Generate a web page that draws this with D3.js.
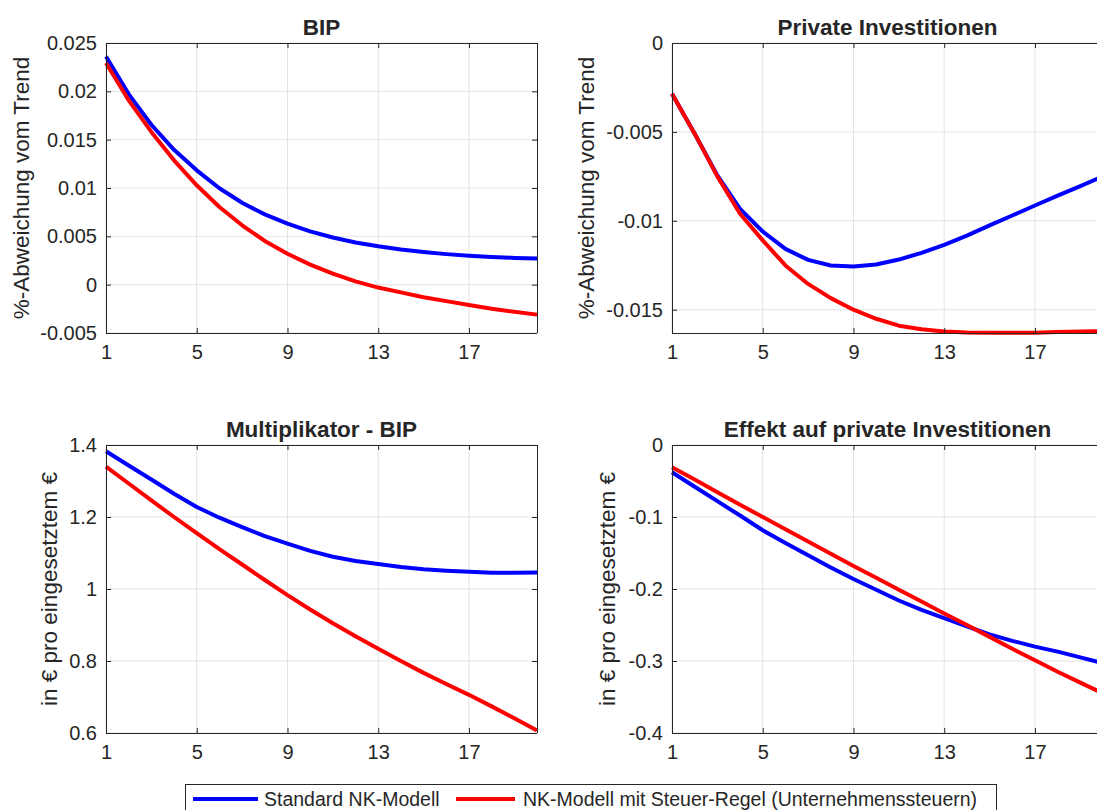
<!DOCTYPE html>
<html>
<head>
<meta charset="utf-8">
<script src="https://cdn.jsdelivr.net/npm/d3@7"></script>
<style>
  html, body { margin: 0; padding: 0; background: #fff; overflow: hidden; }
  svg { display: block; }
  text { font-family: "Liberation Sans", Arial, Helvetica, sans-serif; fill: #262626; }
</style>
</head>
<body>
<svg id="chart" width="1097" height="810"></svg>
<script>
// ---- data ----
const periods = d3.range(1, 21); // 1..20
const xTicks = [1, 5, 9, 13, 17];

const bipStandard = [0.0236, 0.01971, 0.01654, 0.01395, 0.01183, 0.00997, 0.00847, 0.00727, 0.00631, 0.00551,
                     0.00488, 0.00437, 0.00397, 0.00363, 0.00337, 0.00316, 0.0030, 0.00287, 0.00277, 0.0027];
const bipSteuer   = [0.02293, 0.01907, 0.0158, 0.01286, 0.01028, 0.00803, 0.00614, 0.00452, 0.0032, 0.00207,
                     0.00114, 0.00034, -0.0003, -0.0008, -0.0013, -0.0017, -0.0021, -0.0025, -0.0028, -0.0031];

const invStandard = [-0.00285, -0.0051, -0.00745, -0.00933, -0.0106, -0.01158, -0.0122, -0.01251, -0.01257, -0.01246,
                     -0.01218, -0.0118, -0.01135, -0.01083, -0.01026, -0.0097, -0.00914, -0.00858, -0.00805, -0.0075];
const invSteuer   = [-0.00285, -0.0051, -0.0075, -0.0096, -0.0111, -0.01251, -0.01355, -0.01435, -0.0150, -0.01551,
                     -0.0159, -0.0161, -0.01623, -0.01628, -0.0163, -0.0163, -0.01629, -0.01626, -0.01623, -0.0162];

const multStandard = [1.3825, 1.343, 1.304, 1.2646, 1.2277, 1.198, 1.172, 1.147, 1.126, 1.106,
                      1.0895, 1.078, 1.0695, 1.061, 1.055, 1.051, 1.048, 1.045, 1.045, 1.046];
const multSteuer   = [1.34, 1.293, 1.246, 1.200, 1.155, 1.111, 1.068, 1.025, 0.983, 0.943,
                      0.905, 0.869, 0.834, 0.800, 0.767, 0.736, 0.706, 0.674, 0.641, 0.607];

const effStandard = [-0.0378, -0.058, -0.078, -0.098, -0.1184, -0.136, -0.153, -0.170, -0.1862, -0.201,
                     -0.216, -0.229, -0.2406, -0.252, -0.263, -0.272, -0.280, -0.287, -0.295, -0.303];
const effSteuer   = [-0.031, -0.048, -0.0655, -0.083, -0.100, -0.117, -0.134, -0.151, -0.168, -0.1845,
                     -0.201, -0.2175, -0.234, -0.250, -0.2665, -0.283, -0.299, -0.315, -0.330, -0.345];

const titles = ["BIP", "Private Investitionen", "Multiplikator - BIP", "Effekt auf private Investitionen"];
const yLabels = ["%-Abweichung vom Trend", "%-Abweichung vom Trend", "in € pro eingesetztem €", "in € pro eingesetztem €"];
const yTicksBIP = [-0.005, 0, 0.005, 0.01, 0.015, 0.02, 0.025];
const yTicksInv = [-0.015, -0.01, -0.005, 0];
const yTicksMult = [0.6, 0.8, 1, 1.2, 1.4];
const yTicksEff = [-0.4, -0.3, -0.2, -0.1, 0];
const seriesNames = ["Standard NK-Modell", "NK-Modell mit Steuer-Regel (Unternehmenssteuern)"];
const seriesColors = ["#0000ff", "#ff0000"];

// ---- layout ----
const svg = d3.select("#chart");
const panels = [
  { left: 106, top: 43, w: 431, h: 290, ydom: [-0.005, 0.025], yticks: yTicksBIP, series: [bipStandard, bipSteuer], labelX: 29 },
  { left: 672, top: 43, w: 431, h: 290, ydom: [-0.01631, 0], yticks: yTicksInv, series: [invStandard, invSteuer], labelX: 594 },
  { left: 106, top: 445, w: 431, h: 288, ydom: [0.6, 1.4], yticks: yTicksMult, series: [multStandard, multSteuer], labelX: 57 },
  { left: 672, top: 445, w: 431, h: 288, ydom: [-0.4, 0], yticks: yTicksEff, series: [effStandard, effSteuer], labelX: 615 }
];
const fmt = v => (Math.abs(v) < 1e-12 ? "0" : String(+v.toPrecision(6)));

panels.forEach((p, i) => {
  const x = d3.scaleLinear().domain([1, 20]).range([p.left, p.left + p.w]);
  const y = d3.scaleLinear().domain(p.ydom).range([p.top + p.h, p.top]);
  const g = svg.append("g");

  // grid
  g.selectAll(".gx").data(xTicks).enter().append("line")
    .attr("x1", d => x(d)).attr("x2", d => x(d))
    .attr("y1", p.top).attr("y2", p.top + p.h)
    .attr("stroke", "#e3e3e3").attr("stroke-width", 1);
  g.selectAll(".gy").data(p.yticks).enter().append("line")
    .attr("x1", p.left).attr("x2", p.left + p.w)
    .attr("y1", d => y(d)).attr("y2", d => y(d))
    .attr("stroke", "#e3e3e3").attr("stroke-width", 1);

  // lines
  const line = d3.line().x((d, k) => x(periods[k])).y(d => y(d));
  p.series.forEach((s, k) => {
    g.append("path").datum(s).attr("d", line)
      .attr("fill", "none").attr("stroke", seriesColors[k])
      .attr("stroke-width", 4).attr("stroke-linejoin", "round");
  });

  // axes (ticks inward)
  const xAxis = d3.axisBottom(x).tickValues(xTicks).tickSize(-5).tickPadding(12).tickFormat(d3.format("d"));
  const xAxisTop = d3.axisTop(x).tickValues(xTicks).tickSize(-5).tickFormat("");
  const yAxis = d3.axisLeft(y).tickValues(p.yticks).tickSize(-5).tickPadding(9).tickFormat(fmt);
  const yAxisR = d3.axisRight(y).tickValues(p.yticks).tickSize(-5).tickFormat("");

  const styleAxis = sel => {
    sel.select(".domain").attr("stroke", "#262626").attr("stroke-width", 1);
    sel.selectAll(".tick line").attr("stroke", "#262626");
    sel.selectAll("text").attr("font-size", 20).attr("fill", "#262626")
      .attr("font-family", '"Liberation Sans", Arial, sans-serif');
  };
  g.append("g").attr("transform", `translate(0,${p.top + p.h})`).call(xAxis).call(styleAxis)
    .call(s => s.select(".domain").attr("d", `M${p.left},0.5H${p.left + p.w}`));
  g.append("g").attr("transform", `translate(0,${p.top})`).call(xAxisTop).call(styleAxis)
    .call(s => s.select(".domain").attr("d", `M${p.left},0.5H${p.left + p.w}`));
  g.append("g").attr("transform", `translate(${p.left},0)`).call(yAxis).call(styleAxis)
    .call(s => s.select(".domain").attr("d", `M0.5,${p.top}V${p.top + p.h}`));
  g.append("g").attr("transform", `translate(${p.left + p.w},0)`).call(yAxisR).call(styleAxis)
    .call(s => s.select(".domain").attr("d", `M0.5,${p.top}V${p.top + p.h}`));

  // title
  g.append("text").attr("x", p.left + p.w / 2).attr("y", p.top - 8)
    .attr("text-anchor", "middle").attr("font-size", 22.5).attr("font-weight", "bold")
    .attr("fill", "#000").text(titles[i]);

  // y label
  g.append("text")
    .attr("transform", `translate(${p.labelX},${p.top + p.h / 2}) rotate(-90)`)
    .attr("text-anchor", "middle").attr("font-size", 22.5).text(yLabels[i]);
});

// ---- legend ----
const leg = svg.append("g");
leg.append("rect").attr("x", 185.5).attr("y", 784.5).attr("width", 811).attr("height", 40)
  .attr("fill", "#fff").attr("stroke", "#262626").attr("stroke-width", 1);
const legItems = [
  { x1: 193, x2: 258, tx: 264 },
  { x1: 456, x2: 515, tx: 523 }
];
legItems.forEach((it, k) => {
  leg.append("line").attr("x1", it.x1).attr("x2", it.x2).attr("y1", 799).attr("y2", 799)
    .attr("stroke", seriesColors[k]).attr("stroke-width", 4);
  leg.append("text").attr("x", it.tx).attr("y", 806).attr("font-size", 19.5)
    .attr("fill", "#000").text(seriesNames[k]);
});
</script>
</body>
</html>
